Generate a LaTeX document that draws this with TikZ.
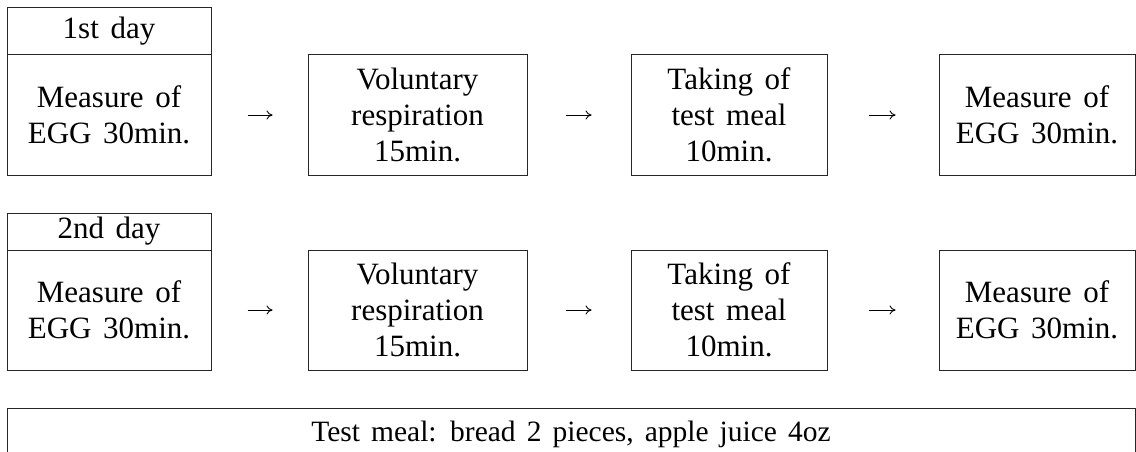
\documentclass[tikz,border=0pt]{standalone}
\usepackage{fontspec}
\setmainfont[WordSpace=1.5]{Liberation Serif}
\usetikzlibrary{arrows.meta}
\begin{document}
\begin{tikzpicture}[x=1pt,y=-1pt,
  box/.style={draw=black!85, line width=1pt, inner sep=0pt, align=center,
    font=\fontsize{31}{36}\selectfont},
  flow/.style={-{To[length=6pt,width=9pt]}, line width=0.9pt}]
\useasboundingbox (0,0) rectangle (1136,452);
% Row 1
\node[box, minimum width=204pt, minimum height=47pt] (d1l) at (109,31.5) {1st day};
\node[box, minimum width=204pt, minimum height=120pt] (d1) at (109,115) {Measure of\\EGG 30min.};
\node[box, minimum width=219pt, minimum height=120pt] (v1) at (417.5,115) {Voluntary\\respiration\\15min.};
\node[box, minimum width=196pt, minimum height=120pt] (t1) at (729,115) {Taking of\\test meal\\10min.};
\node[box, minimum width=196pt, minimum height=120pt] (m1) at (1037,115) {Measure of\\EGG 30min.};
% Row 2
\node[box, minimum width=204pt, minimum height=37pt] (d2l) at (109,231.5) {2nd day};
\node[box, minimum width=204pt, minimum height=120pt] (d2) at (109,310) {Measure of\\EGG 30min.};
\node[box, minimum width=219pt, minimum height=120pt] (v2) at (417.5,310) {Voluntary\\respiration\\15min.};
\node[box, minimum width=196pt, minimum height=120pt] (t2) at (729,310) {Taking of\\test meal\\10min.};
\node[box, minimum width=196pt, minimum height=120pt] (m2) at (1037,310) {Measure of\\EGG 30min.};
% Bottom
\node[box, font=\fontsize{29.5}{34}\selectfont, minimum width=1128pt, minimum height=52pt] (meal) at (571,434) {Test meal: bread 2 pieces, apple juice 4oz};
% Arrows
\foreach \r in {1,2}{
  \draw[flow, shorten <=36pt, shorten >=35pt] (d\r) -- (v\r);
  \draw[flow, shorten <=38pt, shorten >=39pt] (v\r) -- (t\r);
  \draw[flow, shorten <=41pt, shorten >=43pt] (t\r) -- (m\r);
}
\end{tikzpicture}
\end{document}
